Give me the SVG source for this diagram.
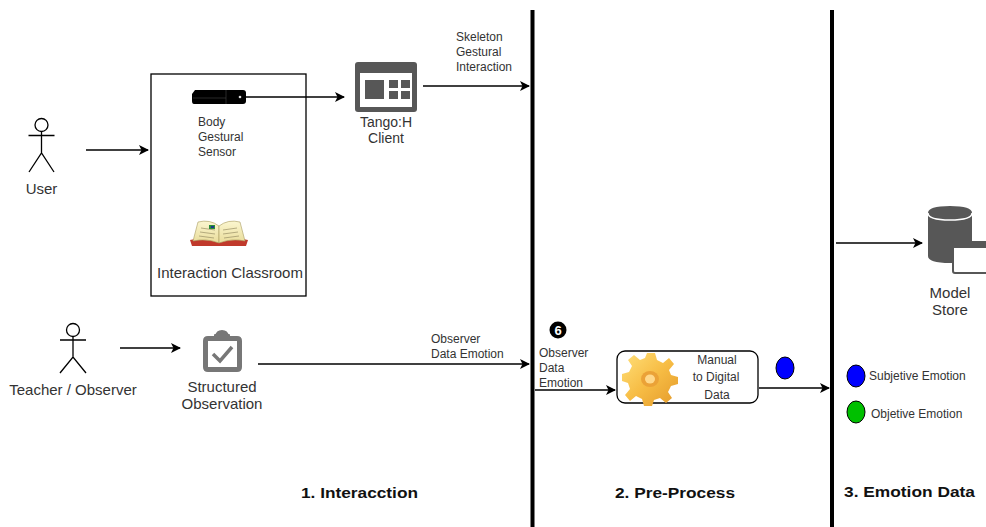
<svg xmlns="http://www.w3.org/2000/svg" width="986" height="527" viewBox="0 0 986 527">
  <defs>
    <marker id="arrow" viewBox="0 0 10 10" refX="9" refY="5" markerWidth="10" markerHeight="10" markerUnits="userSpaceOnUse" orient="auto">
      <path d="M0,0 L10,5 L0,10 L2.5,5 Z" fill="#000"/>
    </marker>
    <linearGradient id="gearFill" x1="0" y1="0" x2="1" y2="1">
      <stop offset="0" stop-color="#ffe07a"/>
      <stop offset="0.5" stop-color="#f7bd45"/>
      <stop offset="1" stop-color="#e49a2a"/>
    </linearGradient>
    <linearGradient id="pageFill" x1="0" y1="0" x2="0" y2="1">
      <stop offset="0" stop-color="#fbf6d0"/>
      <stop offset="1" stop-color="#e9dc9a"/>
    </linearGradient>
  </defs>
  <style>
    .lbl { font-family: "Liberation Sans", Arial, sans-serif; fill: #333; }
    .big { font-size: 15px; }
    .mid { font-size: 14px; }
    .small { font-size: 12px; }
    .title { font-family: "Liberation Sans", Arial, sans-serif; font-size: 15px; font-weight: bold; fill: #111; }
    .edge { stroke: #000; stroke-width: 1.3; fill: none; marker-end: url(#arrow); }
    .lane { stroke: #000; stroke-width: 4; }
    .actor { stroke: #000; stroke-width: 1.3; fill: #fff; }
  </style>

  <rect width="986" height="527" fill="#fff"/>

  <!-- lane separators -->
  <g id="lanes">
    <line class="lane" x1="532.5" y1="10" x2="532.5" y2="527"/>
    <line class="lane" x1="832" y1="10" x2="832" y2="527"/>
  </g>

  <!-- connectors -->
  <g id="connectors">
    <line class="edge" x1="86" y1="150" x2="148" y2="150"/>
    <line class="edge" x1="246" y1="97" x2="344" y2="97"/>
    <line class="edge" x1="423" y1="86" x2="529" y2="86"/>
    <line class="edge" x1="120" y1="348" x2="180" y2="348"/>
    <line class="edge" x1="258" y1="364" x2="529" y2="364"/>
    <line class="edge" x1="535" y1="390" x2="615" y2="390"/>
    <line class="edge" x1="759" y1="388" x2="829" y2="388"/>
    <line class="edge" x1="836" y1="243" x2="922" y2="243"/>
  </g>
  <g id="edge-labels">
    <text class="lbl small" x="456" y="41">Skeleton</text>
    <text class="lbl small" x="456" y="56">Gestural</text>
    <text class="lbl small" x="456" y="71">Interaction</text>
    <text class="lbl small" x="431" y="343">Observer</text>
    <text class="lbl small" x="431" y="358">Data Emotion</text>
  </g>

  <!-- user actor -->
  <g id="user">
    <circle class="actor" cx="41.5" cy="125" r="6.5"/>
    <path class="actor" d="M41.5,131.5 V153 M28.5,135.5 H54.5 M29,172 L41.5,153 L54,172" fill="none"/>
    <text class="lbl big" x="41.5" y="194" text-anchor="middle">User</text>
  </g>

  <!-- interaction classroom container -->
  <g id="classroom">
    <rect x="151" y="74" width="155" height="222" fill="none" stroke="#000" stroke-width="1.3"/>
    <text class="lbl big" x="230" y="278" text-anchor="middle">Interaction Classroom</text>
    <!-- open book -->
    <g id="book-icon">
      <path d="M192,246 L190,240 Q205,236 219,241 Q233,236 248,240 L246,246 Z" fill="#c0392b"/>
      <path d="M193,241 L198,222 Q210,219 219,226 L219,243 Q206,238 193,241 Z" fill="url(#pageFill)" stroke="#a89a60" stroke-width="0.6"/>
      <path d="M245,241 L240,222 Q228,219 219,226 L219,243 Q232,238 245,241 Z" fill="url(#pageFill)" stroke="#a89a60" stroke-width="0.6"/>
      <path d="M201,228 L215,230 M200,232 L215,234 M199,236 L214,238 M223,230 L237,228 M223,234 L238,232 M224,238 L239,236" stroke="#9a8f66" stroke-width="0.7"/>
      <rect x="209" y="225" width="6" height="4" fill="#2a8c3a"/>
      <rect x="211" y="226" width="3" height="2" fill="#1a3a8c"/>
    </g>
  </g>

  <!-- body gestural sensor -->
  <g id="sensor">
    <path d="M195,90 H243 Q246,90 246,93 V101 Q246,104 243,104 H194 Q192,104 192,101 V94 Z" fill="#000"/>
    <line x1="193" y1="98" x2="226" y2="98" stroke="#444" stroke-width="0.6"/>
    <line x1="226" y1="90" x2="226" y2="104" stroke="#444" stroke-width="0.6"/>
    <circle cx="240" cy="97" r="1.3" fill="#ddd"/>
    <text class="lbl small" x="198" y="126">Body</text>
    <text class="lbl small" x="198" y="141">Gestural</text>
    <text class="lbl small" x="198" y="156">Sensor</text>
  </g>

  <!-- client application -->
  <g id="tango-client">
    <rect x="355" y="62" width="62" height="50" rx="3" fill="#575757"/>
    <rect x="360" y="73" width="52" height="34" fill="#fff"/>
    <rect x="365" y="80" width="19" height="19" fill="#575757"/>
    <rect x="389" y="80" width="9" height="8" fill="#575757"/>
    <rect x="401" y="80" width="9" height="8" fill="#575757"/>
    <rect x="389" y="91" width="9" height="8" fill="#575757"/>
    <rect x="401" y="91" width="9" height="8" fill="#575757"/>
    <text class="lbl mid" x="386" y="127" text-anchor="middle">Tango:H</text>
    <text class="lbl mid" x="386" y="143" text-anchor="middle">Client</text>
  </g>

  <!-- teacher actor -->
  <g id="teacher">
    <circle class="actor" cx="73" cy="330" r="6.5"/>
    <path class="actor" d="M73,336.5 V357 M60,340 H86 M60,373 L73,357 L86,373" fill="none"/>
    <text class="lbl big" x="73" y="395" text-anchor="middle">Teacher / Observer</text>
  </g>

  <!-- structured observation -->
  <g id="observation">
    <path d="M208,336 H215 Q216,330 222,330 Q228,330 229,336 H237 Q242,336 242,341 V367 Q242,372 237,372 H208 Q203,372 203,367 V341 Q203,336 208,336 Z" fill="#777"/>
    <rect x="208" y="341" width="29" height="26" fill="#fff"/>
    <rect x="214" y="334" width="16" height="6" rx="1" fill="#777"/>
    <path d="M213,354 L220,361 L232,347" stroke="#777" stroke-width="3.5" fill="none"/>
    <text class="lbl big" x="222" y="392" text-anchor="middle">Structured</text>
    <text class="lbl big" x="222" y="409" text-anchor="middle">Observation</text>
  </g>

  <!-- pre-process input label -->
  <g id="step-marker">
    <circle cx="558" cy="330" r="8.5" fill="#000"/>
    <text x="558" y="335" text-anchor="middle" font-family="Liberation Sans, Arial, sans-serif" font-size="13" font-weight="bold" fill="#fff">6</text>
    <text class="lbl small" x="539" y="357">Observer</text>
    <text class="lbl small" x="539" y="372">Data</text>
    <text class="lbl small" x="539" y="387">Emotion</text>
  </g>

  <!-- manual to digital process -->
  <g id="manual-to-digital">
    <rect x="617" y="351" width="141" height="52" rx="8" fill="#fff" stroke="#000" stroke-width="1.3"/>
    <g transform="translate(651,377)">
      <path d="M-4,-24 H4 L6,-17 L12,-14 L18,-19 L23,-13 L18,-7 L20,-2 L27,0 V7 L20,9 L17,15 L21,21 L15,26 L9,21 L3,23 L1,29 H-7 L-9,22 L-15,19 L-21,24 L-26,18 L-21,12 L-23,6 L-29,4 V-3 L-22,-5 L-19,-11 L-23,-17 L-17,-22 L-11,-17 L-6,-19 Z" fill="url(#gearFill)"/>
      <ellipse cx="-1" cy="2" rx="9" ry="8" fill="#eba237"/>
      <ellipse cx="-1" cy="2" rx="5" ry="4.5" fill="#ffd88a"/>
    </g>
    <text class="lbl small" x="717" y="364" text-anchor="middle">Manual</text>
    <text class="lbl small" x="716" y="381" text-anchor="middle">to Digital</text>
    <text class="lbl small" x="717" y="399" text-anchor="middle">Data</text>
  </g>

  <!-- emotion token on output -->
  <g id="emotion-token">
    <ellipse cx="785" cy="368" rx="9" ry="11" fill="#0000ff" stroke="#000" stroke-width="1"/>
  </g>

  <!-- model store -->
  <g id="model-store">
    <path d="M928,213 Q928,206 950,206 Q972,206 972,213 V256 Q972,263 950,263 Q928,263 928,256 Z" fill="#575757"/>
    <path d="M928,213 Q928,220 950,220 Q972,220 972,213" fill="none" stroke="#fff" stroke-width="1.5"/>
    <rect x="953" y="242" width="40" height="31" rx="2" fill="#fff" stroke="#575757" stroke-width="2"/>
    <rect x="953" y="242" width="40" height="6" fill="#575757"/>
    <text class="lbl big" x="950" y="298" text-anchor="middle">Model</text>
    <text class="lbl big" x="950" y="315" text-anchor="middle">Store</text>
  </g>

  <!-- legend -->
  <g id="legend-subjective">
    <ellipse cx="856" cy="376" rx="9" ry="11" fill="#0000ff" stroke="#000" stroke-width="1"/>
    <text class="lbl small" x="869" y="380">Subjetive Emotion</text>
  </g>
  <g id="legend-objective">
    <ellipse cx="856" cy="412" rx="9" ry="11" fill="#00c000" stroke="#000" stroke-width="1"/>
    <text class="lbl small" x="871" y="418">Objetive Emotion</text>
  </g>

  <!-- lane titles -->
  <g id="lane-titles">
    <text class="title" x="301" y="498" textLength="117" lengthAdjust="spacingAndGlyphs">1. Interacction</text>
    <text class="title" x="615" y="498" textLength="120" lengthAdjust="spacingAndGlyphs">2. Pre-Process</text>
    <text class="title" x="844" y="497" textLength="131" lengthAdjust="spacingAndGlyphs">3. Emotion Data</text>
  </g>
</svg>
